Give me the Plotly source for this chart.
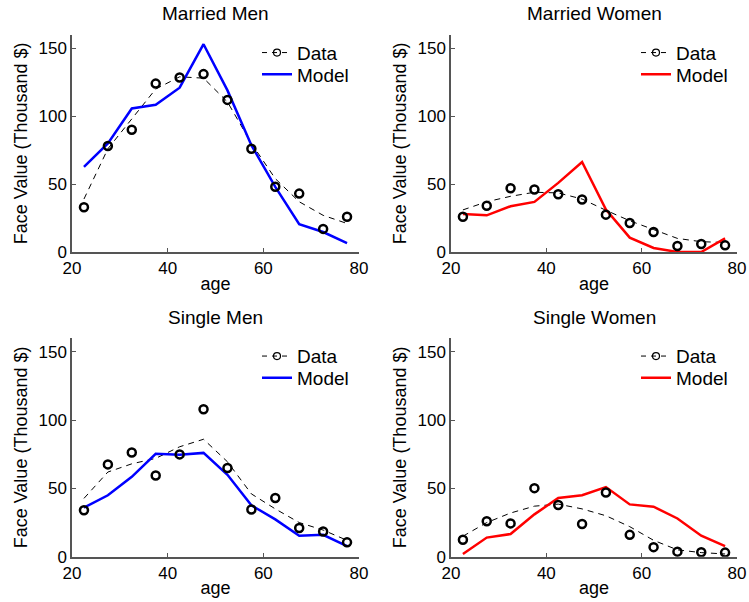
import plotly.graph_objects as go

ages = [22.5, 27.5, 32.5, 37.5, 42.5, 47.5, 52.5, 57.5, 62.5, 67.5, 72.5, 77.5]

mm_data = [33, 78, 90, 124, 128.5, 131, 112, 76, 48, 43, 17, 26]
mm_fit = [39, 76, 98, 120, 129, 128, 110.5, 80, 54, 37, 27, 21]
mm_model = [62.7, 80, 105.7, 108.4, 121, 153, 119, 78.6, 48, 20.4, 14.7, 6.6]

mw_data = [26, 34, 47, 46, 42.5, 38.6, 27.5, 21.4, 14.7, 4.4, 5.9, 4.9]
mw_fit = [31, 37, 41, 44, 43.5, 39, 30.7, 23, 16.5, 10, 7.6, 7]
mw_model = [28, 27, 33.7, 36.9, 50.9, 66.3, 31.2, 10.6, 3, 0, 0, 10]

sm_data = [34, 67.6, 76.3, 59.5, 74.9, 108, 65, 34.6, 43, 21, 18.5, 10.5]
sm_fit = [42.7, 62, 68, 72, 80.5, 86, 69.5, 46, 35, 25, 19.5, 12]
sm_model = [36, 45, 58.5, 75.4, 74.6, 76, 60, 37.6, 27.3, 15.4, 16, 7.8]

sw_data = [12.4, 26, 24.4, 50.2, 37.8, 24, 47, 16, 7, 3.7, 3.2, 3]
sw_fit = [15, 25, 32, 37, 38.5, 35, 30, 22, 12, 5, 3, 2]
sw_model = [2, 14, 16.6, 31, 43, 45, 51, 38.3, 36.6, 28, 15.4, 7.8]

titles = ["Married Men", "Married Women", "Single Men", "Single Women"]
x_ticks = [20, 40, 60, 80]
y_ticks = [0, 50, 100, 150]

W, H = 749, 602
FONT = "Liberation Sans, Arial, sans-serif"

panels = [
    (titles[0], mm_data, mm_fit, mm_model, "#0000ff", (72, 359), (34.7, 252)),
    (titles[1], mw_data, mw_fit, mw_model, "#ff0000", (451, 737), (34.7, 252)),
    (titles[2], sm_data, sm_fit, sm_model, "#0000ff", (72, 359), (338.2, 556.7)),
    (titles[3], sw_data, sw_fit, sw_model, "#ff0000", (451, 737), (338.2, 556.7)),
]

fig = go.Figure()
layout = dict(
    width=W, height=H,
    margin=dict(l=0, r=0, t=0, b=0),
    paper_bgcolor="white", plot_bgcolor="white",
    font=dict(family=FONT, size=16, color="black"),
    annotations=[],
)


def legname(k):
    return "legend" if k == 1 else f"legend{k}"


for i, (title, data, fit, model, col, (xl, xr), (yt, yb)) in enumerate(panels):
    n = i + 1
    xa = "x" if n == 1 else f"x{n}"
    ya = "y" if n == 1 else f"y{n}"
    leg_d = legname(2 * i + 1)
    leg_m = legname(2 * i + 2)
    # legend entry for Data (dashed line with circle)
    fig.add_trace(go.Scatter(x=[None], y=[None], mode="lines+markers", name="Data",
                             line=dict(color="black", width=1, dash="5px,5px"),
                             marker=dict(symbol="circle-open", size=7, color="black", line=dict(width=1.2)),
                             xaxis=xa, yaxis=ya, legend=leg_d, showlegend=True))
    fig.add_trace(go.Scatter(x=ages, y=fit, mode="lines", name="Data fit",
                             line=dict(color="black", width=1, dash="6px,5px"),
                             xaxis=xa, yaxis=ya, showlegend=False))
    fig.add_trace(go.Scatter(x=ages, y=model, mode="lines", name="Model",
                             line=dict(color=col, width=2.5),
                             xaxis=xa, yaxis=ya, legend=leg_m, showlegend=True))
    fig.add_trace(go.Scatter(x=ages, y=data, mode="markers", name="Data",
                             marker=dict(symbol="circle-open", size=8, color="black", line=dict(width=2.5)),
                             xaxis=xa, yaxis=ya, showlegend=False))

    axis_common = dict(showline=True, linecolor="#555555", linewidth=1.5, ticks="inside",
                       ticklen=4, tickcolor="#555555", showgrid=False, zeroline=False,
                       automargin=False, tickfont=dict(size=17, family=FONT))
    layout["xaxis" if n == 1 else f"xaxis{n}"] = dict(
        domain=[xl / W, xr / W], anchor=ya, range=[20, 80], tickvals=x_ticks,
        title=dict(text="age", standoff=0, font=dict(size=18)), **axis_common)
    layout["yaxis" if n == 1 else f"yaxis{n}"] = dict(
        domain=[1 - yb / H, 1 - yt / H], anchor=xa, range=[0, 160], tickvals=y_ticks,
        title=dict(text="Face Value (Thousand $)", standoff=6, font=dict(size=18)), **axis_common)
    for k, (lg, dy) in enumerate([(leg_d, -1), (leg_m, 20.7)]):
        layout[lg] = dict(x=(xl + 185) / W, y=1 - (yt + dy) / H, xanchor="left", yanchor="top",
                          bgcolor="rgba(0,0,0,0)", font=dict(size=19, family=FONT),
                          itemwidth=30, tracegroupgap=0)
    layout["annotations"].append(dict(text=title, x=(xl + xr) / 2 / W, y=1 - (yt - 21) / H,
                                      xref="paper", yref="paper", showarrow=False,
                                      font=dict(size=19, family=FONT), xanchor="center", yanchor="middle"))

fig.update_layout(**layout)
fig.write_html("out.html", config={"displayModeBar": False},
               post_script="document.body.style.margin='0';document.body.style.overflow='hidden';")
